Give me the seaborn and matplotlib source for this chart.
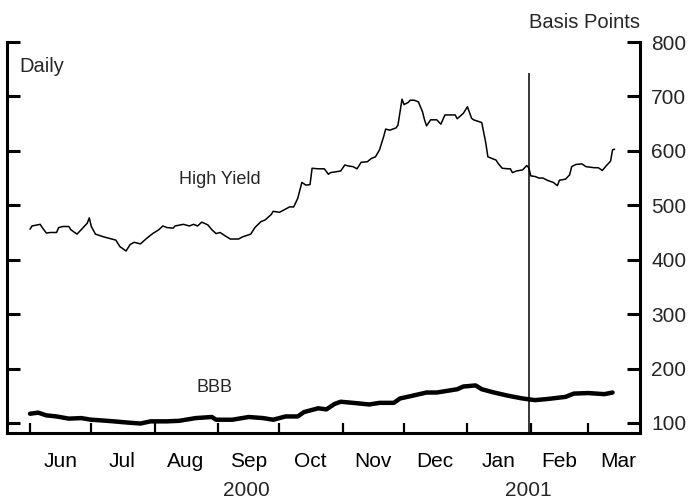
import matplotlib
matplotlib.use("Agg")
import matplotlib.pyplot as plt
import matplotlib.dates as mdates
from matplotlib.ticker import FixedLocator, FixedFormatter, NullFormatter
import seaborn as sns
import pandas as pd

sns.set_style("white")
plt.rcParams['font.family'] = ['Liberation Sans', 'DejaVu Sans']

# ---------------- data ----------------
hy_dates = [
    "2000-06-01", "2000-06-02", "2000-06-06", "2000-06-07", "2000-06-09", "2000-06-11",
    "2000-06-14", "2000-06-15", "2000-06-17", "2000-06-20", "2000-06-21", "2000-06-24",
    "2000-06-26", "2000-06-29", "2000-06-30", "2000-07-01", "2000-07-03", "2000-07-07",
    "2000-07-10", "2000-07-13", "2000-07-15", "2000-07-18", "2000-07-20", "2000-07-22",
    "2000-07-25", "2000-07-28", "2000-07-31", "2000-08-03", "2000-08-05", "2000-08-07",
    "2000-08-10", "2000-08-11", "2000-08-15", "2000-08-18", "2000-08-20", "2000-08-22",
    "2000-08-24", "2000-08-27", "2000-08-29", "2000-08-31", "2000-09-02", "2000-09-04",
    "2000-09-07", "2000-09-11", "2000-09-13", "2000-09-17", "2000-09-19", "2000-09-22",
    "2000-09-24", "2000-09-27", "2000-09-28", "2000-10-01", "2000-10-03", "2000-10-06",
    "2000-10-08", "2000-10-10", "2000-10-12", "2000-10-14", "2000-10-16", "2000-10-17",
    "2000-10-20", "2000-10-22", "2000-10-23", "2000-10-25", "2000-10-26", "2000-10-31",
    "2000-11-02", "2000-11-04", "2000-11-06", "2000-11-08", "2000-11-10", "2000-11-13",
    "2000-11-15", "2000-11-17", "2000-11-19", "2000-11-21", "2000-11-22", "2000-11-24",
    "2000-11-27", "2000-11-28", "2000-11-30", "2000-12-01", "2000-12-03", "2000-12-04",
    "2000-12-06", "2000-12-08", "2000-12-10", "2000-12-11", "2000-12-12", "2000-12-14",
    "2000-12-17", "2000-12-19", "2000-12-21", "2000-12-23", "2000-12-26", "2000-12-27",
    "2000-12-30", "2001-01-01", "2001-01-03", "2001-01-04", "2001-01-08", "2001-01-10",
    "2001-01-11", "2001-01-13", "2001-01-15", "2001-01-16", "2001-01-18", "2001-01-21",
    "2001-01-22", "2001-01-23", "2001-01-25", "2001-01-28", "2001-01-30", "2001-01-31",
    "2001-02-01", "2001-02-03", "2001-02-05", "2001-02-07", "2001-02-09", "2001-02-12",
    "2001-02-14", "2001-02-15", "2001-02-18", "2001-02-20", "2001-02-21", "2001-02-23",
    "2001-02-26", "2001-02-28", "2001-03-04", "2001-03-06", "2001-03-08", "2001-03-10",
    "2001-03-12", "2001-03-13", "2001-03-14",
]
hy_values = [
    456, 462, 465, 459, 449, 450,
    450, 459, 461, 461, 455, 447,
    455, 467, 477, 461, 447, 442,
    439, 436, 424, 416, 428, 432,
    429, 439, 448, 455, 462, 459,
    458, 462, 465, 462, 465, 462,
    469, 464, 455, 448, 450, 445,
    438, 438, 442, 447, 459, 470,
    473, 483, 489, 487, 491, 497,
    497, 513, 542, 537, 538, 568,
    567, 567, 567, 557, 560, 563,
    574, 572, 571, 567, 579, 580,
    586, 589, 602, 626, 640, 638,
    642, 647, 695, 685, 689, 693,
    693, 690, 672, 657, 646, 657,
    657, 649, 666, 666, 666, 659,
    669, 681, 660, 657, 652, 614,
    589, 586, 583, 577, 568, 567,
    567, 560, 563, 565, 573, 569,
    554, 553, 550, 550, 546, 542,
    536, 546, 548, 556, 571, 575,
    576, 571, 569, 569, 564, 573,
    581, 602, 603,
]

bbb_dates = [
    "2000-06-01", "2000-06-05", "2000-06-09", "2000-06-14", "2000-06-20", "2000-06-26",
    "2000-07-01", "2000-07-05", "2000-07-12", "2000-07-18", "2000-07-25", "2000-07-30",
    "2000-08-07", "2000-08-13", "2000-08-21", "2000-08-29", "2000-08-31", "2000-09-08",
    "2000-09-16", "2000-09-23", "2000-09-28", "2000-10-04", "2000-10-10", "2000-10-13",
    "2000-10-20", "2000-10-24", "2000-10-28", "2000-10-31", "2000-11-06", "2000-11-14",
    "2000-11-19", "2000-11-26", "2000-11-29", "2000-12-05", "2000-12-12", "2000-12-17",
    "2000-12-22", "2000-12-27", "2000-12-30", "2001-01-05", "2001-01-08", "2001-01-14",
    "2001-01-21", "2001-01-28", "2001-02-03", "2001-02-09", "2001-02-18", "2001-02-22",
    "2001-03-01", "2001-03-09", "2001-03-13",
]
bbb_values = [
    117, 119, 114, 112, 108, 109,
    106, 105, 103, 101, 99, 103,
    103, 104, 109, 111, 106, 106,
    111, 109, 106, 112, 112, 120,
    127, 125, 135, 139, 137, 134,
    137, 137, 145, 150, 156, 156,
    159, 162, 167, 169, 162, 156,
    150, 145, 142, 144, 148, 154,
    155, 153, 156,
]

month_ticks = ["2000-06-01", "2000-07-01", "2000-08-01", "2000-09-01", "2000-10-01",
               "2000-11-01", "2000-12-01", "2001-01-01", "2001-02-01", "2001-03-01"]
month_label_pos = ["2000-06-16", "2000-07-16", "2000-08-16", "2000-09-16", "2000-10-16",
                   "2000-11-16", "2000-12-16", "2001-01-16", "2001-02-15", "2001-03-16"]
month_labels = ["Jun", "Jul", "Aug", "Sep", "Oct", "Nov", "Dec", "Jan", "Feb", "Mar"]
year_label_pos = ["2000-09-15", "2001-01-31"]
year_labels = ["2000", "2001"]
y_ticks = [100, 200, 300, 400, 500, 600, 700, 800]
event_date = "2001-01-31"

# ---------------- figure ----------------
W, H = 694, 499
fig = plt.figure(figsize=(W / 100, H / 100), dpi=100)
ax = fig.add_axes([7 / W, 1 - 433 / H, (640 - 7) / W, (433 - 42) / H])

df_hy = pd.DataFrame({"date": pd.to_datetime(hy_dates), "spread": hy_values})
df_bbb = pd.DataFrame({"date": pd.to_datetime(bbb_dates), "spread": bbb_values})

sns.lineplot(data=df_bbb, x="date", y="spread", color="black", linewidth=3.2,
             estimator=None, ax=ax)
sns.lineplot(data=df_hy, x="date", y="spread", color="black", linewidth=1.1,
             estimator=None, ax=ax)

ymin, ymax = 81.6, 800
ax.set_xlim(pd.Timestamp("2000-05-20 18:00"), pd.Timestamp("2001-03-26 10:00"))
ax.set_ylim(ymin, ymax)
ax.vlines(pd.Timestamp(event_date), ymin, 743, color="black", linewidth=1.1)

ax.set_xlabel("")
ax.set_ylabel("")

for s in ["left", "right", "bottom"]:
    ax.spines[s].set_visible(True)
    ax.spines[s].set_linewidth(2.2)
    ax.spines[s].set_color("black")
ax.spines["top"].set_visible(False)

# x ticks
ax.xaxis.set_major_locator(FixedLocator(mdates.date2num(pd.to_datetime(month_ticks))))
ax.xaxis.set_major_formatter(NullFormatter())
ax.xaxis.set_minor_locator(FixedLocator(mdates.date2num(pd.to_datetime(month_label_pos))))
ax.xaxis.set_minor_formatter(FixedFormatter(month_labels))
ax.tick_params(axis="x", which="major", direction="in", length=7, width=1.6,
               color="black", bottom=True)
ax.tick_params(axis="x", which="minor", length=0, pad=14, labelsize=15,
               labelcolor="black", bottom=True)

# y ticks
ax.yaxis.set_major_locator(FixedLocator(y_ticks))
ax.yaxis.set_minor_locator(FixedLocator([800]))
ax.tick_params(axis="y", which="major", direction="in", length=9.4, width=2.2,
               left=True, right=True, labelleft=False, labelright=True,
               labelsize=15, pad=8, color="black")
ax.tick_params(axis="y", which="minor", direction="in", length=18.5, width=2.2,
               left=True, right=True, labelleft=False, labelright=False, color="black")

# year labels
for pos, lab in zip(year_label_pos, year_labels):
    ax.text(pd.Timestamp(pos), -0.148, lab, transform=ax.get_xaxis_transform(),
            ha="center", va="center", fontsize=15, clip_on=False)

# annotations
fig.text(640 / W, 1 - 22 / H, "Basis Points", ha="right", va="center", fontsize=14.5)
fig.text(19 / W, 1 - 66 / H, "Daily", ha="left", va="center", fontsize=14.5)
fig.text(220 / W, 1 - 180 / H, "High Yield", ha="center", va="center", fontsize=13)
fig.text(215 / W, 1 - 387 / H, "BBB", ha="center", va="center", fontsize=13)

fig.savefig("out.png", dpi=100)
